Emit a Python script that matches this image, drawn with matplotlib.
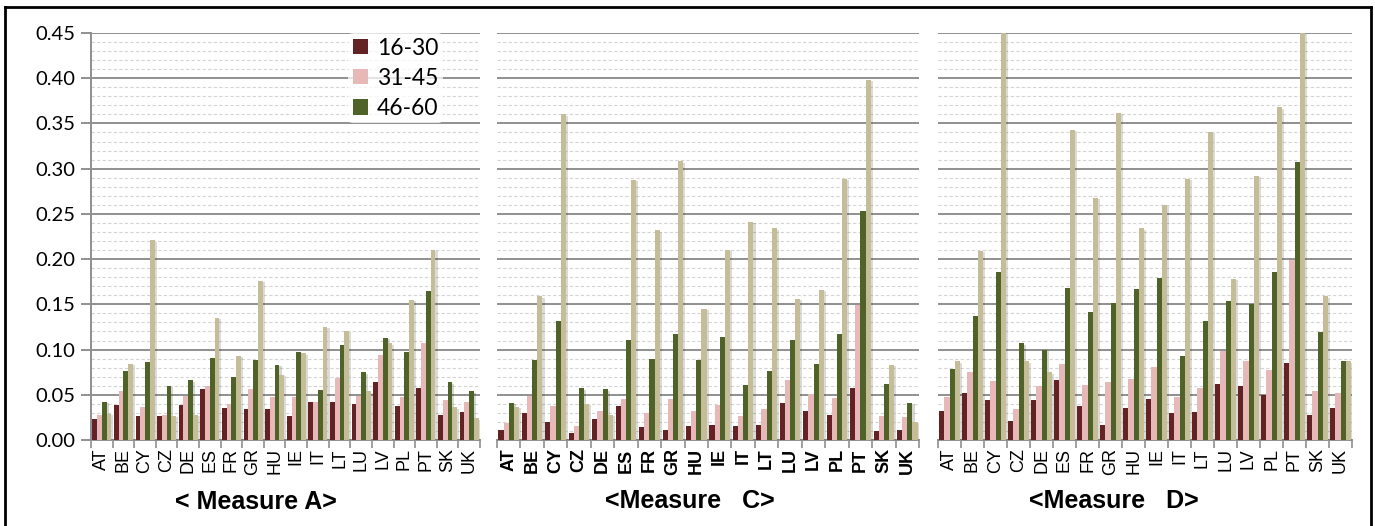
import numpy as np
import matplotlib.pyplot as plt
import matplotlib.patheffects as pe
from matplotlib.ticker import MultipleLocator, FormatStrFormatter, FixedLocator
from matplotlib.patches import Patch
from matplotlib.lines import Line2D

countries = ["AT", "BE", "CY", "CZ", "DE", "ES", "FR", "GR", "HU",
             "IE", "IT", "LT", "LU", "LV", "PL", "PT", "SK", "UK"]
age_groups = ["16-30", "31-45", "46-60"]

# Measure A
a_16_30 = [0.023, 0.039, 0.027, 0.026, 0.039, 0.056, 0.035, 0.034, 0.034,
           0.026, 0.042, 0.042, 0.040, 0.064, 0.038, 0.058, 0.028, 0.031]
a_31_45 = [0.028, 0.054, 0.037, 0.028, 0.049, 0.060, 0.040, 0.056, 0.048,
           0.047, 0.042, 0.069, 0.049, 0.094, 0.047, 0.107, 0.044, 0.042]
a_46_60 = [0.042, 0.076, 0.086, 0.060, 0.066, 0.091, 0.070, 0.089, 0.083,
           0.097, 0.055, 0.105, 0.075, 0.113, 0.097, 0.165, 0.064, 0.054]
a_other = [0.029, 0.084, 0.221, 0.027, 0.028, 0.135, 0.093, 0.176, 0.072,
           0.096, 0.125, 0.121, 0.054, 0.107, 0.155, 0.210, 0.036, 0.024]

# Measure C
c_16_30 = [0.011, 0.030, 0.020, 0.008, 0.023, 0.038, 0.014, 0.011, 0.015,
           0.017, 0.015, 0.017, 0.041, 0.032, 0.028, 0.057, 0.010, 0.011]
c_31_45 = [0.019, 0.049, 0.038, 0.015, 0.032, 0.045, 0.030, 0.045, 0.032,
           0.039, 0.026, 0.034, 0.066, 0.051, 0.046, 0.149, 0.026, 0.025]
c_46_60 = [0.041, 0.088, 0.132, 0.057, 0.056, 0.111, 0.090, 0.117, 0.089,
           0.114, 0.061, 0.076, 0.111, 0.084, 0.117, 0.253, 0.062, 0.041]
c_other = [0.037, 0.159, 0.360, 0.040, 0.028, 0.288, 0.232, 0.308, 0.145,
           0.210, 0.241, 0.234, 0.156, 0.166, 0.289, 0.398, 0.083, 0.020]

# Measure D
d_16_30 = [0.032, 0.052, 0.044, 0.021, 0.044, 0.066, 0.038, 0.017, 0.035,
           0.045, 0.030, 0.031, 0.062, 0.060, 0.050, 0.085, 0.028, 0.035]
d_31_45 = [0.048, 0.075, 0.065, 0.034, 0.060, 0.084, 0.061, 0.064, 0.067,
           0.081, 0.048, 0.058, 0.098, 0.087, 0.077, 0.199, 0.054, 0.052]
d_46_60 = [0.079, 0.137, 0.186, 0.107, 0.100, 0.168, 0.142, 0.152, 0.167,
           0.179, 0.093, 0.132, 0.154, 0.150, 0.186, 0.307, 0.119, 0.087]
d_other = [0.087, 0.209, 0.450, 0.087, 0.075, 0.343, 0.268, 0.362, 0.234,
           0.260, 0.289, 0.341, 0.178, 0.292, 0.368, 0.450, 0.159, 0.087]

colors = ["#632324", "#e6b9b8", "#4f6228", "#c4bd97"]

W, H = 1375, 526
fig = plt.figure(figsize=(W / 100, H / 100), dpi=100)


def px_axes(x0, x1, y_top, y_bot):
    return fig.add_axes([x0 / W, (H - y_bot) / H, (x1 - x0) / W, (y_bot - y_top) / H])


def draw_panel(ax, series, bold_labels=False, show_y=False):
    x = np.arange(len(countries))
    bw = 0.22
    shadow = [pe.SimplePatchShadow(offset=(1.5, -1), alpha=0.18), pe.Normal()]
    for k, vals in enumerate(series):
        bars = ax.bar(x + 0.06 + k * bw, vals, width=bw, align="edge",
                      color=colors[k], linewidth=0, zorder=3)
        for b in bars:
            b.set_path_effects(shadow)
    ax.set_xlim(0, len(countries))
    ax.set_ylim(0, 0.45)

    ax.yaxis.set_major_locator(MultipleLocator(0.05))
    ax.yaxis.set_minor_locator(MultipleLocator(0.01))
    ax.grid(axis="y", which="major", color="#8f8f8f", linewidth=1.4, zorder=0)
    ax.grid(axis="y", which="minor", color="#d4d4d4", linewidth=0.8,
            linestyle=(0, (3, 2)), zorder=0)

    ax.xaxis.set_major_locator(FixedLocator(x + 0.5))
    ax.xaxis.set_minor_locator(FixedLocator(np.arange(len(countries) + 1)))
    ax.set_xticklabels(countries, rotation=90, fontsize=13,
                       family="Liberation Sans",
                       fontweight="bold" if bold_labels else "normal")
    ax.tick_params(axis="x", which="major", length=0, pad=6)
    ax.tick_params(axis="x", which="minor", length=6, width=1.2, color="#8f8f8f")

    for s in ["top", "right"]:
        ax.spines[s].set_visible(False)
    ax.spines["bottom"].set_color("#8f8f8f")
    ax.spines["bottom"].set_linewidth(1.4)
    if show_y:
        ax.yaxis.set_major_formatter(FormatStrFormatter("%.2f"))
        ax.tick_params(axis="y", which="major", length=7, width=1.4,
                       color="#8f8f8f", labelsize=14.5, pad=4)
        ax.tick_params(axis="y", which="minor", length=0)
        for lab in ax.get_yticklabels():
            lab.set_family("Lato")
        ax.spines["left"].set_color("#8f8f8f")
        ax.spines["left"].set_linewidth(1.4)
    else:
        ax.spines["left"].set_visible(False)
        ax.tick_params(axis="y", which="both", length=0, labelleft=False)


ax_a = px_axes(91, 480, 33, 440)
ax_c = px_axes(497, 919, 33, 440)
ax_d = px_axes(938, 1352, 33, 440)

draw_panel(ax_a, [a_16_30, a_31_45, a_46_60, a_other], show_y=True)
draw_panel(ax_c, [c_16_30, c_31_45, c_46_60, c_other], bold_labels=True)
draw_panel(ax_d, [d_16_30, d_31_45, d_46_60, d_other])

handles = [Patch(facecolor=colors[k], edgecolor="none") for k in range(3)]
leg = ax_a.legend(handles, age_groups, loc="upper right",
                  bbox_to_anchor=(0.905, 1.0), frameon=True,
                  handlelength=0.65, handleheight=0.65, handletextpad=0.4,
                  labelspacing=0.4, borderaxespad=0.0, borderpad=0.2,
                  prop={"family": "Lato", "size": 16.5})
leg.get_frame().set_facecolor("white")
leg.get_frame().set_edgecolor("none")
leg.get_frame().set_alpha(0.75)
leg.set_zorder(5)

title_kw = dict(ha="center", va="center", fontsize=18, fontweight="bold",
                family="Liberation Sans")
fig.text(256 / W, 1 - 502 / H, "< Measure A>", **title_kw)
fig.text(690 / W, 1 - 501 / H, "<Measure   C>", **title_kw)
fig.text(1114 / W, 1 - 501 / H, "<Measure   D>", **title_kw)

# outer frame
for xs, ys in [([5, 5], [7, H]), ([5, 1371], [7, 7]), ([1371, 1371], [7, H])]:
    fig.add_artist(Line2D([v / W for v in xs], [1 - v / H for v in ys],
                          color="black", linewidth=2))

fig.savefig("out.png", dpi=100)
